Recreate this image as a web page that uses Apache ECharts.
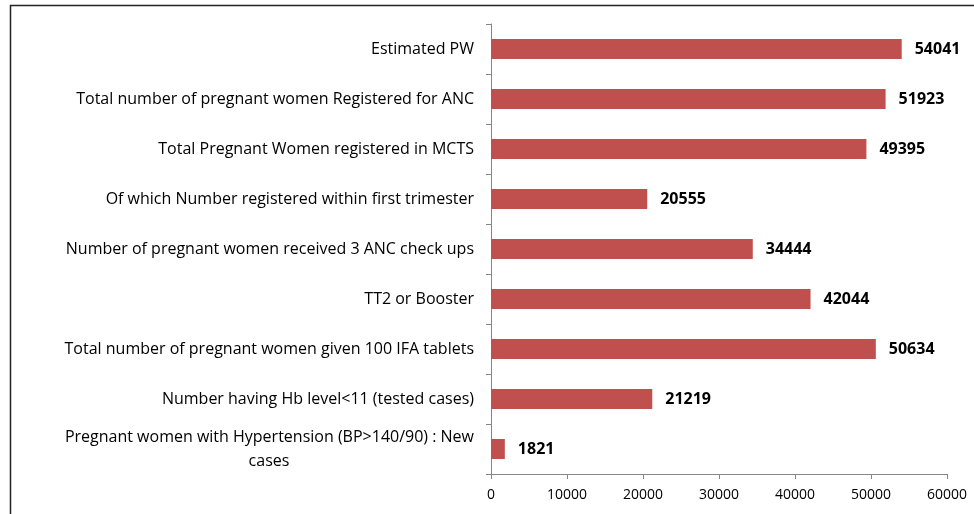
<!DOCTYPE html>
<html>
<head>
<meta charset="utf-8">
<script src="https://cdn.jsdelivr.net/npm/echarts@6/dist/echarts.min.js"></script>
<style>
  html, body { margin: 0; padding: 0; background: #fff; }
  #container { width: 974px; height: 514px; }
</style>
</head>
<body>
<div id="container"></div>
<script>
var dom     = document.getElementById("container");
var myChart = echarts.init(dom);

var categories = [
    'Estimated PW',
    'Total number of pregnant women Registered for ANC',
    'Total Pregnant Women registered in MCTS',
    'Of which Number registered within first trimester',
    'Number of pregnant women received 3 ANC check ups',
    'TT2 or Booster',
    'Total number of pregnant women given 100 IFA tablets',
    'Number having Hb level<11 (tested cases)',
    'Pregnant women with Hypertension (BP>140/90) : New\ncases'
];
var values = [54041, 51923, 49395, 20555, 34444, 42044, 50634, 21219, 1821];
var xTicks = [0, 10000, 20000, 30000, 40000, 50000, 60000];

var labelFont = '"Open Sans", sans-serif';
var labelSize = 16;

// width of the first line of the wrapped label, so the second line can be centred under it
function textWidth(str) {
    var ctx = document.createElement('canvas').getContext('2d');
    ctx.font = labelSize + 'px "Open Sans"';
    return Math.ceil(ctx.measureText(str).width);
}

var option = {
    backgroundColor: '#fff',
    animation: false,
    // outer frame
    graphic: [{
        type: 'rect',
        left: 8, top: 3,
        shape: { width: 990, height: 530 },
        style: { fill: 'none', stroke: '#222', lineWidth: 1.5 }
    }],
    grid: {
        left: 491,
        right: 27,
        top: 24,
        bottom: 40,
        containLabel: false
    },
    xAxis: {
        type: 'value',
        min: xTicks[0],
        max: xTicks[xTicks.length - 1],
        interval: 10000,
        axisLine: { show: true, lineStyle: { color: '#868686', width: 1 } },
        axisTick: { show: true, length: 5, lineStyle: { color: '#868686' } },
        splitLine: { show: false },
        axisLabel: {
            color: '#000',
            fontFamily: labelFont,
            fontSize: 14,
            margin: 14,
            formatter: function (v) { return String(v); }
        }
    },
    yAxis: {
        type: 'category',
        inverse: true,
        data: categories,
        axisLine: { show: true, lineStyle: { color: '#868686', width: 1 } },
        axisTick: { show: true, length: 5, lineStyle: { color: '#868686' } },
        splitLine: { show: false },
        axisLabel: {
            color: '#000',
            fontFamily: labelFont,
            fontSize: labelSize,
            margin: 17,
            lineHeight: 24,
            formatter: function (name) {
                if (name.indexOf('\n') >= 0) {
                    var parts = name.split('\n');
                    return parts[0] + '\n{c|' + parts[1] + '}';
                }
                return name;
            },
            rich: {
                c: {
                    width: textWidth(categories[8].split('\n')[0]),
                    align: 'center',
                    fontFamily: labelFont,
                    fontSize: labelSize,
                    color: '#000',
                    lineHeight: 24
                }
            }
        }
    },
    series: [{
        type: 'bar',
        data: values,
        barWidth: 20,
        itemStyle: { color: '#C0504D' },
        label: {
            show: true,
            position: 'right',
            distance: 13,
            color: '#000',
            fontWeight: 'bold',
            fontFamily: labelFont,
            fontSize: 16
        }
    }]
};

myChart.setOption(option);
</script>
</body>
</html>
